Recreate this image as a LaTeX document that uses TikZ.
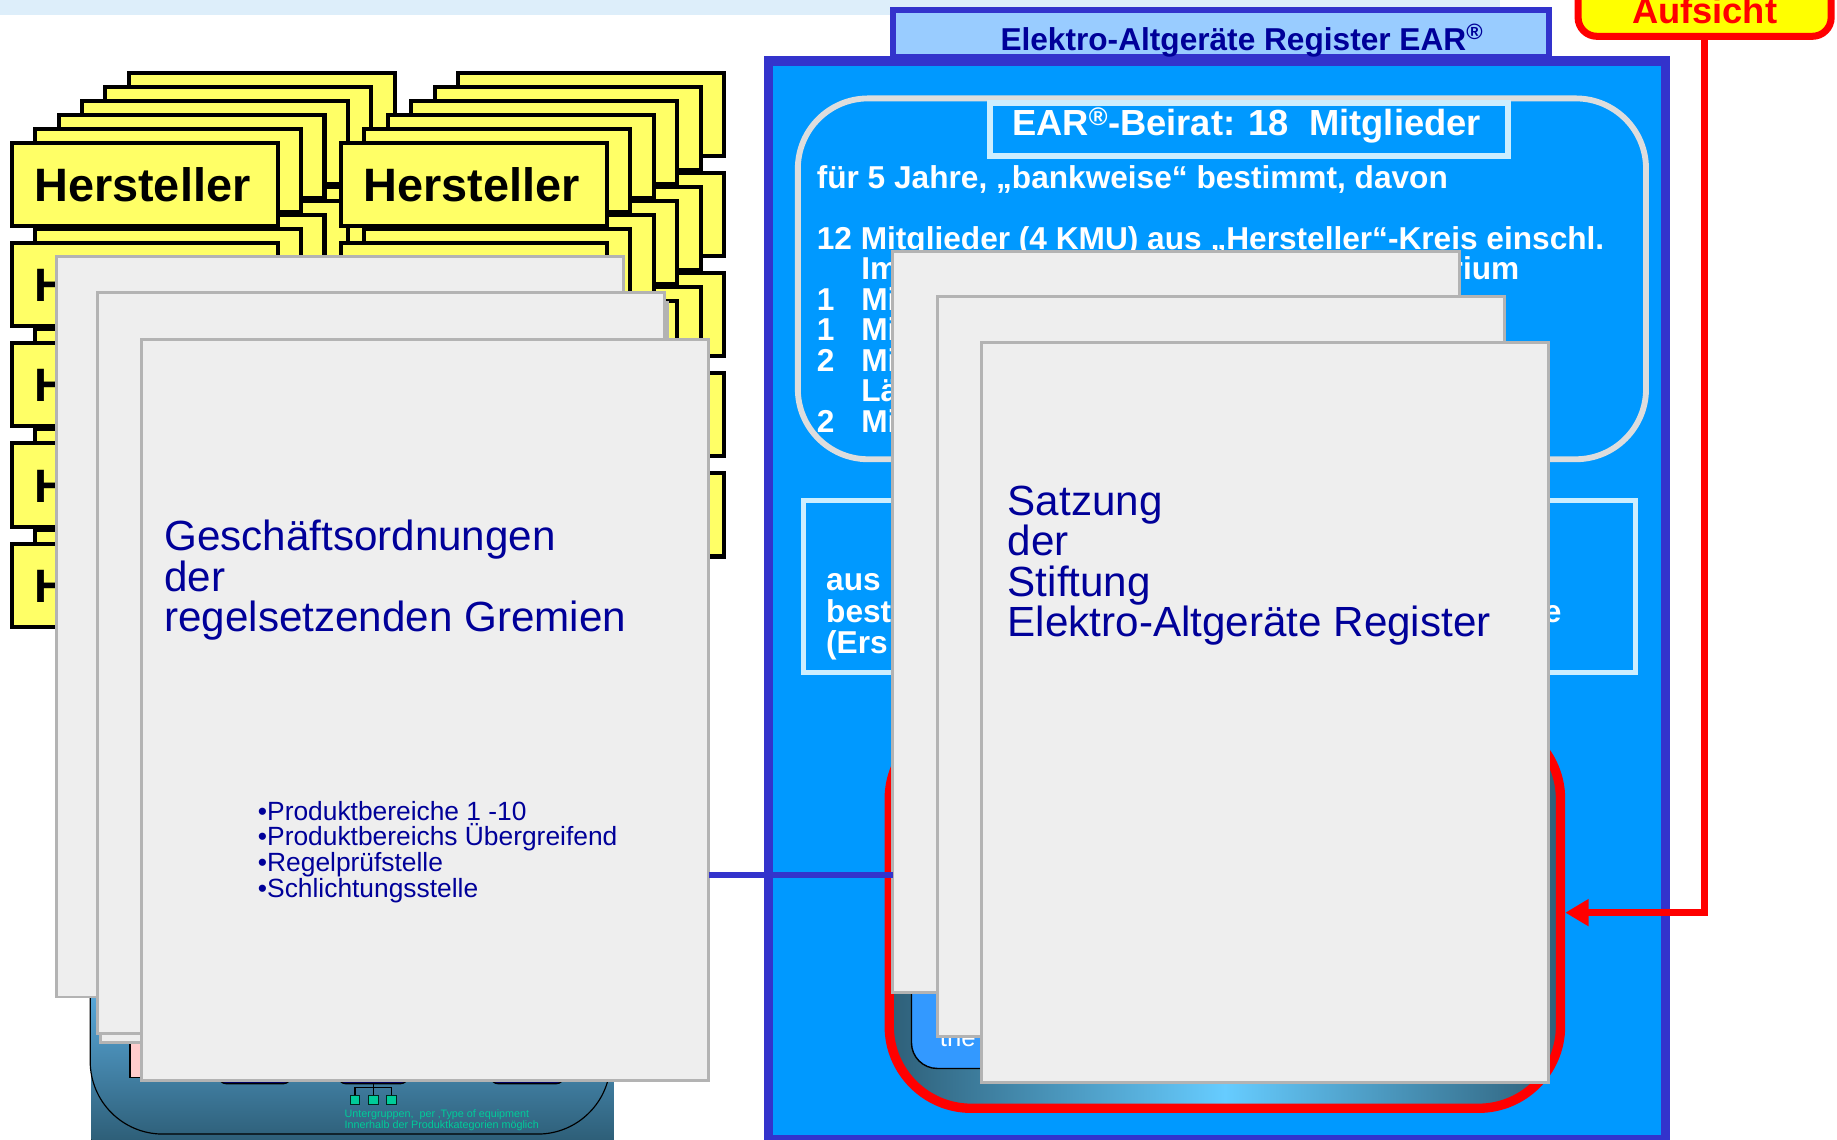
\documentclass[tikz,border=0pt]{standalone}
\usepackage{fontspec}
\setmainfont{Liberation Sans}
\usetikzlibrary{arrows.meta,calc}

\definecolor{gelb}{HTML}{FFFF66}
\definecolor{gelbhell}{HTML}{FFFF00}
\definecolor{rot}{HTML}{FF0000}
\definecolor{seitengrau}{HTML}{EEEEEE}
\definecolor{seitenrand}{HTML}{B3B3B3}
\definecolor{textblau}{HTML}{000099}
\definecolor{earblau}{HTML}{0099FF}
\definecolor{earrand}{HTML}{3333CC}
\definecolor{reiterblau}{HTML}{99CCFF}
\definecolor{streifen}{HTML}{DDEEFA}
\definecolor{rahmengrau}{HTML}{DDDDDD}
\definecolor{hellrand}{HTML}{CCEEFF}
\definecolor{tiefblau}{HTML}{2E5F78}
\definecolor{lichtblau}{HTML}{66CCFF}
\definecolor{knopfblau}{HTML}{3399FF}
\definecolor{verlaufhell}{HTML}{5AAADC}
\definecolor{tuerkis}{HTML}{00CC99}
\definecolor{rosa}{HTML}{FFCCCC}
\definecolor{marine}{HTML}{000066}

\tikzset{
  herstbox/.style={draw=black, line width=3.5pt, fill=gelb, anchor=north west,
    minimum width=227pt, minimum height=71pt, inner sep=0pt, outer sep=0pt,
    font=\bfseries\fontsize{40}{40}\selectfont},
  herst/.style={anchor=base west, inner sep=0pt, font=\bfseries\fontsize{40}{40}\selectfont},
  seite/.style={draw=seitenrand, line width=2.5pt, fill=seitengrau, anchor=north west,
    minimum width=484pt, minimum height=632pt, inner sep=0pt, outer sep=0pt},
  gross/.style={text=textblau, anchor=base west, inner sep=0pt,
    font=\fontsize{36}{36}\selectfont},
  punkt/.style={text=textblau, anchor=base west, inner sep=0pt,
    font=\fontsize{22.5}{22.5}\selectfont},
  weiss/.style={text=white, anchor=base west, inner sep=0pt,
    font=\bfseries\fontsize{27}{27}\selectfont},
  klein/.style={text=tuerkis, anchor=base west, inner sep=0pt,
    font=\fontsize{9.2}{9.2}\selectfont},
  quadrat/.style={draw=black!80!tuerkis, line width=0.8pt, fill=tuerkis,
    minimum width=8.5pt, minimum height=8pt, inner sep=0pt},
  aufsichtbox/.style={draw=rot, line width=6pt, fill=gelbhell, rounded corners=16pt,
    minimum width=216pt, minimum height=60pt, inner sep=0pt, outer sep=0pt},
  rotbox/.style={draw=rot, line width=8pt, rounded corners=70pt,
    left color=tiefblau, right color=tiefblau, middle color=lichtblau,
    minimum width=573pt, minimum height=334pt, inner sep=0pt},
  verbindung/.style={draw=earrand, line width=5pt},
  aufsichtpfeil/.style={draw=rot, line width=6pt, -{Triangle[length=20pt,width=22pt]}}
}

\begin{document}
\begin{tikzpicture}[x=1pt,y=-1pt]
\useasboundingbox (0,0) rectangle (1568,973);
\fill[white] (0,0) rectangle (1568,973);
\fill[streifen] (0,0) rectangle (1280,13);

% Hersteller-Stapel, von unten nach oben
\foreach \zeile in {4,3,2,1,0}{
  \foreach \spalte/\xpos in {0/10,1/291}{
    \foreach \k in {5,4,3,2,1}
      \node[herstbox] at ({\xpos+20*\k},{122+85.5*\zeile-12*\k}) {};
    \node[herstbox] (h\zeile\spalte) at ({\xpos},{122+85.5*\zeile}) {};
  }
}
\node[herst] (ht0) at (29,172) {Hersteller};
\node[herst] (ht1) at (310,172) {Hersteller};
\foreach \zeile in {1,2,3,4}
  \node[herst] (hh\zeile) at (29,{172+85.5*\zeile}) {H};

% Produktbereiche unten links
\fill[top color=verlaufhell, bottom color=tiefblau] (78,845) rectangle (524,973);
\draw[line width=1pt, rounded corners=62pt] (77,800) -- (77,968) -- (521,968) -- (521,800);
\draw[fill=rosa, line width=1pt] (111,880) rectangle (140,920);
\foreach \xa/\xb in {187/248,289/348,419/481}
  \draw[fill=marine, line width=1pt, rounded corners=6pt] (\xa,890) rectangle (\xb,925);
\node[quadrat] (q1) at (303,939) {};
\node[quadrat] (q2) at (319,939) {};
\node[quadrat] (q3) at (334,939) {};
\coordinate (mitte) at (319,925);
\coordinate (balken) at (319,928);
\draw[line width=1pt] (mitte) -- (q2.north);
\draw[line width=1pt] (q1.north) |- (balken) -| (q3.north);
\node[klein] (u1) at (294,954) {Untergruppen,\ \ per ‚Type of equipment};
\node[klein] (u2) at (294,963) {Innerhalb der Produktkategorien möglich};

% Geschaeftsordnungen
\node[seite] (L1) at (48,219) {};
\node[seite] (L2b) at (86,258) {};
\node[seite] (L2) at (83,250) {};
\node[seite] (L3) at (121,290) {};
\node[gross] (g1) at (140,470) {Geschäftsordnungen};
\node[gross] (g2) at (140,504.5) {der};
\node[gross] (g3) at (140,539) {regelsetzenden Gremien};
\node[punkt] (b1) at (220,700) {•Produktbereiche 1 -10};
\node[punkt] (b2) at (220,722) {•Produktbereichs Übergreifend};
\node[punkt] (b3) at (220,744) {•Regelprüfstelle};
\node[punkt] (b4) at (220,766) {•Schlichtungsstelle};

% EAR
\draw[line width=5pt, draw=earrand, fill=reiterblau] (762,8.5) rectangle (1322.5,48.5);
\draw[line width=8pt, draw=earrand, fill=earblau] (656,52) rectangle (1421.5,973);
\node[text=textblau, anchor=base, inner sep=0pt, font=\bfseries\fontsize{27}{27}\selectfont]
  (titel) at (1060,43) {Elektro-Altgeräte Register EAR\textsuperscript{®}};

\node[aufsichtbox] (aufsicht) at (1455,1) {};
\node[text=rot, anchor=base, inner sep=0pt, font=\bfseries\fontsize{31}{31}\selectfont]
  (aufsichttext) at (1455,20) {Aufsicht};

% Beirat
\draw[line width=5pt, draw=rahmengrau, rounded corners=60pt] (681,84) rectangle (1405,392);
\draw[line width=5pt, draw=hellrand, fill=earblau] (845,88) rectangle (1287.5,133.5);
\node[text=white, anchor=base, inner sep=0pt, font=\bfseries\fontsize{31}{31}\selectfont]
  (beirat) at (1064,116) {EAR\textsuperscript{®}-Beirat: 18\ \ Mitglieder};
\node[weiss] at (697,161) {für 5 Jahre, „bankweise“ bestimmt, davon};
\node[weiss] at (697,213) {12 Mitglieder (4 KMU) aus „Hersteller“-Kreis einschl.};
\node[weiss] at (735,239) {Im};
\node[weiss, anchor=base east] at (1297,239) {rium};
\node[weiss] at (697,265) {1};
\node[weiss] at (735,265) {Mi};
\node[weiss] at (697,291) {1};
\node[weiss] at (735,291) {Mi};
\node[weiss] at (697,317) {2};
\node[weiss] at (735,317) {Mi};
\node[weiss] at (735,343) {Lä};
\node[weiss] at (697,369) {2};
\node[weiss] at (735,369) {Mi};

\draw[line width=4.5pt, draw=hellrand] (686,427) rectangle (1396,574);
\node[weiss] at (705,504) {aus};
\node[weiss] at (705,531) {best};
\node[weiss] at (705,558) {(Ers};
\node[weiss, anchor=base east] at (1333,531) {e};

% Stiftungsrat
\node[rotbox] (rotbox) at (1045.5,779) {};
\draw[line width=1.2pt, fill=knopfblau, rounded corners=22pt] (778,700) rectangle (1300,912);
\node[text=white, anchor=base west, inner sep=0pt, font=\fontsize{22}{22}\selectfont]
  (the) at (802,893) {the};

% Satzung
\node[seite] (P1) at (762,215) {};
\node[seite] (P2) at (800,253) {};
\node[seite] (P3) at (838,292) {};
\node[gross] (s1) at (860,440) {Satzung};
\node[gross] (s2) at (860,474.5) {der};
\node[gross] (s3) at (860,509) {Stiftung};
\node[gross] (s4) at (860,543.5) {Elektro-Altgeräte Register};

\coordinate (hoehe) at (700,747);
\draw[verbindung] (L3.east |- hoehe) -- (P1.west |- hoehe);
\draw[aufsichtpfeil] (aufsicht.south) |- (rotbox.east);

\end{tikzpicture}
\end{document}
